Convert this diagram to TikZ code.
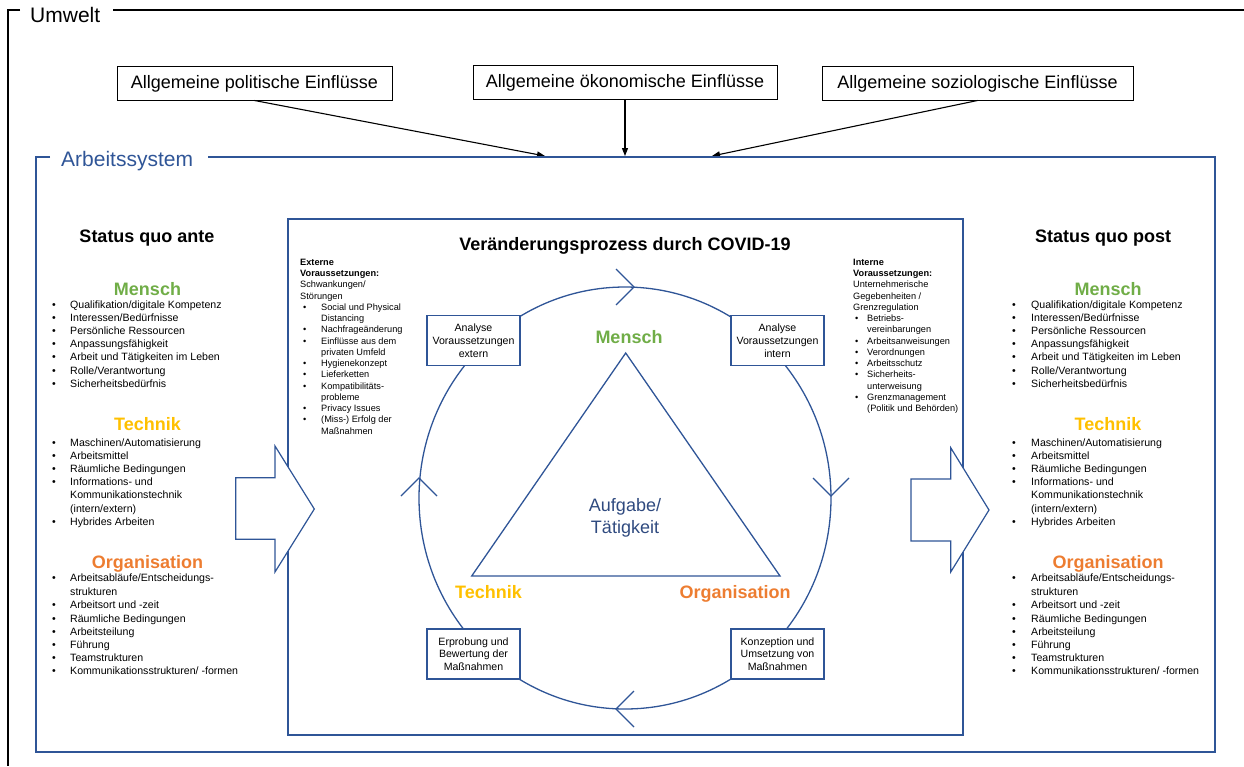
\documentclass[tikz,border=0pt]{standalone}
\usepackage{fontspec}
\setmainfont{Liberation Sans}
\usetikzlibrary{positioning,arrows.meta}
\definecolor{sysblue}{HTML}{2F5597}
\definecolor{mensch}{HTML}{70AD47}
\definecolor{technik}{HTML}{FFC000}
\definecolor{orga}{HTML}{ED7D31}
\definecolor{taskblue}{HTML}{2F4A7F}
\newcommand{\fs}[2]{\fontsize{#1}{#2}\selectfont}
\newcommand{\li}[1]{\textbullet & #1\\}
\newcommand{\lc}[1]{& #1\\}
\newcommand{\lh}[1]{\multicolumn{2}{@{}l@{}}{#1}\\}

\begin{document}
\begin{tikzpicture}[x=1pt,y=-1pt,>={Triangle[length=8pt,width=6pt]},
  frm/.style={line width=1.3pt},
  infl/.style={draw,line width=1pt,fill=white,minimum width=#1,minimum height=34pt,inner sep=0pt,text height=12pt,text depth=1pt,font=\fs{18}{21}},
  hd/.style={anchor=base,inner sep=0pt,font=\fs{18}{21}\bfseries},
  lst/.style={anchor=base west,inner sep=0pt,font=\fs{10.6}{13.2}},
  sml/.style={anchor=base west,inner sep=0pt,font=\fs{9.2}{11.25}},
  cbox/.style={draw=sysblue,line width=1.2pt,fill=white,minimum width=93pt,minimum height=50pt,inner sep=0pt,align=center,font=\fs{10.6}{12.8}}]
\useasboundingbox (0,0) rectangle (1244,766);
% Umwelt
\node[anchor=base west,inner sep=0pt,font=\fs{21}{24}] (umw) at (30,22) {Umwelt};
\draw[frm] (20,10) -- (8,10) -- (8,766);
\draw[frm] (113,10) -- (1244,10);
% influences
\node[infl=275pt] (pol) at (254.5,83) {Allgemeine politische Einflüsse};
\node[infl=304pt] (oek) at (625,82) {Allgemeine ökonomische Einflüsse};
\node[infl=311pt] (soz) at (977.5,83) {Allgemeine soziologische Einflüsse};
\coordinate (polE) at (545,156);
\coordinate (oekE) at (625,156);
\coordinate (sozE) at (712,156);
\draw[->,line width=1.1pt] (pol.south) -- (polE);
\draw[->,line width=1.1pt] (oek.south) -- (oekE);
\draw[->,line width=1.1pt] (soz.south) -- (sozE);
% Arbeitssystem
\node[anchor=base west,inner sep=0pt,text=sysblue,font=\fs{21}{24}] (asys) at (61,166.7) {Arbeitssystem};
\draw[frm,sysblue] (50,157) -- (36,157) -- (36,752) -- (1215,752) -- (1215,157) -- (208,157);
\draw[frm,sysblue] (288,219) rectangle (963,735);
% status quo ante
\node[hd] (sqa) at (147,242.4) {Status quo ante};
\node[hd,text=mensch] (mA) at (147.5,295.4) {Mensch};
\node[lst] (mLa) at (52,308) {\begin{tabular}[t]{@{}p{18pt}@{}l@{}}
\li{Qualifikation/digitale Kompetenz}
\li{Interessen/Bedürfnisse}
\li{Persönliche Ressourcen}
\li{Anpassungsfähigkeit}
\li{Arbeit und Tätigkeiten im Leben}
\li{Rolle/Verantwortung}
\li{Sicherheitsbedürfnis}
\end{tabular}};
\node[hd,text=technik] (tA) at (147.5,430.4) {Technik};
\node[lst] (tLa) at (52,446) {\begin{tabular}[t]{@{}p{18pt}@{}l@{}}
\li{Maschinen/Automatisierung}
\li{Arbeitsmittel}
\li{Räumliche Bedingungen}
\li{Informations- und}
\lc{Kommunikationstechnik}
\lc{(intern/extern)}
\li{Hybrides Arbeiten}
\end{tabular}};
\node[hd,text=orga] (oA) at (147.5,568.4) {Organisation};
\node[lst] (oLa) at (52,581) {\begin{tabular}[t]{@{}p{18pt}@{}l@{}}
\textbullet & Arbeitsabläufe/Entscheidungs-\\[1.5pt]
\lc{strukturen}
\li{Arbeitsort und -zeit}
\li{Räumliche Bedingungen}
\li{Arbeitsteilung}
\li{Führung}
\li{Teamstrukturen}
\li{Kommunikationsstrukturen/ -formen}
\end{tabular}};
% status quo post
\node[hd] (sqp) at (1103,242.4) {Status quo post};
\node[hd,text=mensch] (mP) at (1108,295.4) {Mensch};
\node[lst] (mLp) at (1012,308) {\begin{tabular}[t]{@{}p{19pt}@{}l@{}}
\li{Qualifikation/digitale Kompetenz}
\li{Interessen/Bedürfnisse}
\li{Persönliche Ressourcen}
\li{Anpassungsfähigkeit}
\li{Arbeit und Tätigkeiten im Leben}
\li{Rolle/Verantwortung}
\li{Sicherheitsbedürfnis}
\end{tabular}};
\node[hd,text=technik] (tP) at (1108,430.4) {Technik};
\node[lst] (tLp) at (1012,446) {\begin{tabular}[t]{@{}p{19pt}@{}l@{}}
\li{Maschinen/Automatisierung}
\li{Arbeitsmittel}
\li{Räumliche Bedingungen}
\li{Informations- und}
\lc{Kommunikationstechnik}
\lc{(intern/extern)}
\li{Hybrides Arbeiten}
\end{tabular}};
\node[hd,text=orga] (oP) at (1108,568.4) {Organisation};
\node[lst] (oLp) at (1012,581) {\begin{tabular}[t]{@{}p{19pt}@{}l@{}}
\textbullet & Arbeitsabläufe/Entscheidungs-\\[1.5pt]
\lc{strukturen}
\li{Arbeitsort und -zeit}
\li{Räumliche Bedingungen}
\li{Arbeitsteilung}
\li{Führung}
\li{Teamstrukturen}
\li{Kommunikationsstrukturen/ -formen}
\end{tabular}};
% block arrows
\draw[sysblue,line width=1.2pt,fill=white] (235.7,477.7) -- (275,477.7) -- (275,446) -- (314.3,509) -- (275,572) -- (275,539.3) -- (235.7,539.3) -- cycle;
\draw[sysblue,line width=1.2pt,fill=white] (911,479) -- (950.7,479) -- (950.7,447.7) -- (989,510) -- (950.7,572) -- (950.7,541) -- (911,541) -- cycle;
% process
\node[hd] (proc) at (625,250.4) {Veränderungsprozess durch COVID-19};
\node[sml] (ext) at (300,265.3) {\begin{tabular}[t]{@{\hspace{3pt}}p{18pt}@{}l@{}}
\lh{\bfseries Externe}
\lh{\bfseries Voraussetzungen:}
\lh{Schwankungen/}
\lh{Störungen}
\li{Social und Physical}
\lc{Distancing}
\li{Nachfrageänderung}
\li{Einflüsse aus dem}
\lc{privaten Umfeld}
\li{Hygienekonzept}
\li{Lieferketten}
\li{Kompatibilitäts-}
\lc{probleme}
\li{Privacy Issues}
\li{(Miss-) Erfolg der}
\lc{Maßnahmen}
\end{tabular}};
\node[sml] (int) at (853,265.3) {\begin{tabular}[t]{@{\hspace{2pt}}p{12pt}@{}l@{}}
\lh{\bfseries Interne}
\lh{\bfseries Voraussetzungen:}
\lh{Unternehmerische}
\lh{Gegebenheiten /}
\lh{Grenzregulation}
\li{Betriebs-}
\lc{vereinbarungen}
\li{Arbeitsanweisungen}
\li{Verordnungen}
\li{Arbeitsschutz}
\li{Sicherheits-}
\lc{unterweisung}
\li{Grenzmanagement}
\lc{(Politik und Behörden)}
\end{tabular}};
% cycle
\draw[sysblue,line width=1.3pt] (625,498) ellipse [x radius=206pt,y radius=211pt];
\coordinate (cT) at (634,287);
\coordinate (cR) at (831,496);
\coordinate (cB) at (616,709);
\coordinate (cL) at (419,478);
\draw[sysblue,line width=1.3pt] ([shift={(-18,-18)}]cT) -- (cT) -- ([shift={(-18,18)}]cT);
\draw[sysblue,line width=1.3pt] ([shift={(-18,-18)}]cR) -- (cR) -- ([shift={(18,-18)}]cR);
\draw[sysblue,line width=1.3pt] ([shift={(18,-18)}]cB) -- (cB) -- ([shift={(18,18)}]cB);
\draw[sysblue,line width=1.3pt] ([shift={(-18,18)}]cL) -- (cL) -- ([shift={(18,18)}]cL);
\node[cbox] (anaE) at (473.5,340.5) {Analyse\\Voraussetzungen\\extern};
\node[cbox] (anaI) at (777.5,340.5) {Analyse\\Voraussetzungen\\intern};
\node[cbox] (konz) at (777.5,654) {Konzeption und\\Umsetzung von\\Maßnahmen};
\node[cbox] (erpr) at (473.5,654) {Erprobung und\\Bewertung der\\Maßnahmen};
% triangle
\draw[sysblue,line width=1.3pt] (625.7,353) -- (780,576) -- (471.7,576) -- cycle;
\node[hd,text=mensch] (mC) at (629,343.4) {Mensch};
\node[hd,text=technik] (tC) at (488.5,598.4) {Technik};
\node[hd,text=orga] (oC) at (735,598.4) {Organisation};
\node[align=center,inner sep=0pt,text=taskblue,font=\fs{18}{22}] (task) at (625,518) {Aufgabe/\\Tätigkeit};
\end{tikzpicture}
\end{document}
